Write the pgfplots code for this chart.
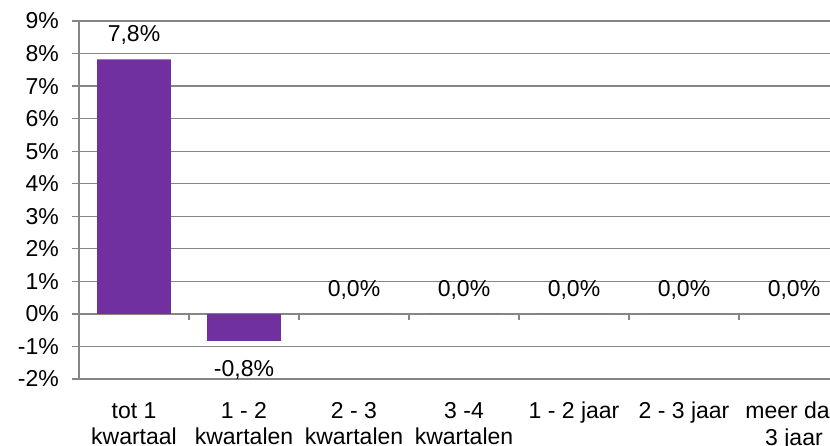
\documentclass[border=0pt]{standalone}
\usepackage{pgfplots}
\pgfplotsset{compat=1.18}
\usepackage{fontspec}
\setmainfont{Liberation Sans}
\definecolor{barpurple}{HTML}{7030A0}
\definecolor{gridgray}{HTML}{868686}
\begin{document}
\fontsize{23}{26.7}\selectfont
\begin{tikzpicture}[x=1pt,y=1pt]
\useasboundingbox (-79,-66) rectangle (751,379);
\clip (-79,-66) rectangle (751,379);
\begin{axis}[
  at={(0,0)}, anchor=south west,
  scale only axis, width=770pt, height=358pt,
  xmin=-0.5, xmax=6.5, ymin=-2, ymax=9,
  axis lines*=left,
  x axis line style={draw=none},
  y axis line style={gridgray, line width=1.2pt},
  ymajorgrids, grid style={gridgray, line width=1.2pt},
  ytick={-2,...,9},
  yticklabels={-2\%,-1\%,0\%,1\%,2\%,3\%,4\%,5\%,6\%,7\%,8\%,9\%},
  tick align=outside, major tick length=7pt,
  y tick style={gridgray, line width=1.2pt},
  x tick style={draw=none},
  xtick={0,...,6},
  xticklabels={{tot 1\\kwartaal},{1 - 2\\kwartalen},{2 - 3\\kwartalen},{3 -4\\kwartalen},{1 - 2 jaar},{2 - 3 jaar},{meer dan\\3 jaar}},
  xticklabel style={align=center, anchor=north, inner sep=0pt, yshift=-16pt},
  yticklabel style={anchor=east, inner sep=0pt, xshift=-13pt},
  /pgf/number format/assume math mode=true,
  clip=false,
]
\addplot[ybar, bar width=0.67, fill=barpurple, draw=none] coordinates {(0,7.82) (1,-0.83) (2,0) (3,0) (4,0) (5,0) (6,0)};
\addplot[draw=none, mark=none, point meta=y, nodes near coords={\pgfmathprintnumber[fixed, fixed zerofill, precision=1, use comma]{\pgfplotspointmeta}\%},
  every node near coord/.append style={anchor=center, inner sep=0pt, yshift=24pt, text=black}] coordinates {(0,7.82) (2,0) (3,0) (4,0) (5,0) (6,0)};
\addplot[draw=none, mark=none, point meta=y, nodes near coords={\pgfmathprintnumber[fixed, fixed zerofill, precision=1, use comma]{\pgfplotspointmeta}\%},
  every node near coord/.append style={anchor=center, inner sep=0pt, yshift=-29pt, text=black}] coordinates {(1,-0.83)};
\pgfplotsinvokeforeach{0.5,1.5,2.5,3.5,4.5,5.5,6.5}{
  \draw[gridgray, line width=1.2pt] (axis cs:#1,0) -- ++(0pt,-6pt);
}
\end{axis}
\end{tikzpicture}
\end{document}
